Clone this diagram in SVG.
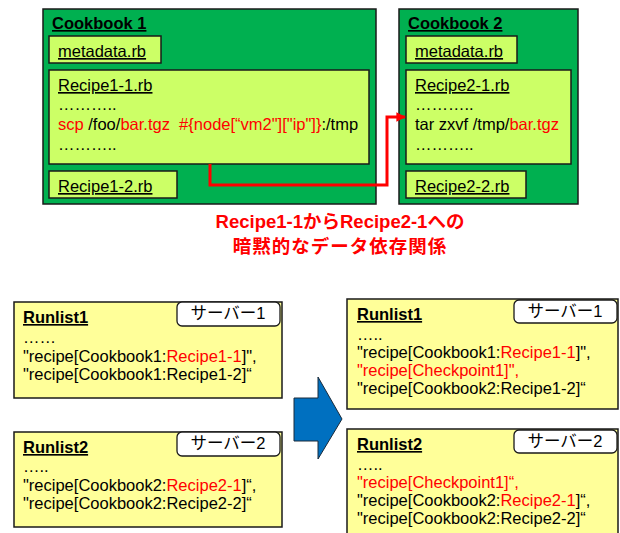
<svg xmlns="http://www.w3.org/2000/svg" width="620" height="533" viewBox="0 0 620 533">
  <style>
    text { font-family: "Liberation Sans", Arial, "Noto Sans CJK JP", sans-serif; font-size: 16.5px; fill: #000; white-space: pre; }
    .title { font-weight: bold; text-decoration: underline; font-size: 16.5px; }
    .u { text-decoration: underline; }
    .r { fill: #FF0000; }
    .cook { fill: #00B050; stroke: #1a1a1a; stroke-width: 1.5; }
    .file { fill: #CCFF66; stroke: #1a1a1a; stroke-width: 1.5; }
    .run { fill: #FFFF99; stroke: #1a1a1a; stroke-width: 1.5; }
    .srv { fill: #FFFFFF; stroke: #1a1a1a; stroke-width: 1.3; }
    .cap { font-weight: bold; font-size: 18.5px; fill: #FF0000; text-anchor: middle; }
    .mid { text-anchor: middle; }
  </style>
  <defs>
    <marker id="redHead" viewBox="0 0 10 10" refX="9" refY="5" markerWidth="3.2" markerHeight="3.2" orient="auto" markerUnits="strokeWidth">
      <path d="M0,0 L10,5 L0,10 z" fill="#FF0000"/>
    </marker>
  </defs>

  <!-- Cookbook 1 -->
  <g id="cookbook1">
    <rect class="cook" x="43" y="9" width="333" height="195"/>
    <text class="title" x="52" y="29">Cookbook 1</text>
    <rect class="file" x="49" y="36" width="112" height="27"/>
    <text class="u" x="58" y="57">metadata.rb</text>
    <rect class="file" x="49" y="70" width="320" height="94"/>
    <text class="u" x="58" y="91">Recipe1-1.rb</text>
    <text x="58" y="110">………..</text>
    <text x="58" y="130"><tspan class="r">scp</tspan> /foo/<tspan class="r">bar.tgz</tspan>  <tspan class="r">#{node[“vm2"]["ip"]}</tspan>:/tmp</text>
    <text x="58" y="150">………..</text>
    <rect class="file" x="49" y="171" width="128" height="27"/>
    <text class="u" x="58" y="192">Recipe1-2.rb</text>
  </g>

  <!-- Cookbook 2 -->
  <g id="cookbook2">
    <rect class="cook" x="399" y="9" width="179" height="195"/>
    <text class="title" x="408" y="29">Cookbook 2</text>
    <rect class="file" x="406" y="36" width="111" height="27"/>
    <text class="u" x="415" y="57">metadata.rb</text>
    <rect class="file" x="406" y="70" width="165" height="94"/>
    <text class="u" x="415" y="91">Recipe2-1.rb</text>
    <text x="415" y="110">………..</text>
    <text x="415" y="130">tar zxvf /tmp/<tspan class="r">bar.tgz</tspan></text>
    <text x="415" y="150">………..</text>
    <rect class="file" x="406" y="171" width="120" height="27"/>
    <text class="u" x="415" y="192">Recipe2-2.rb</text>
  </g>

  <!-- Connectors -->
  <g id="connectors">
    <path d="M210,164 V185 H387 V117 H405" fill="none" stroke="#FF0000" stroke-width="3" marker-end="url(#redHead)"/>
    <path d="M294,398 H318 V377 L342,419 L318,459 V441 H294 Z" fill="#0070C0" stroke="#1a2a3a" stroke-width="1"/>
  </g>

  <!-- Caption -->
  <g id="caption">
    <text class="cap" x="340" y="228">Recipe1-1からRecipe2-1への</text>
    <text class="cap" x="340" y="253" letter-spacing="1">暗黙的なデータ依存関係</text>
  </g>

  <!-- Run lists before -->
  <g id="runlist1-before">
    <rect class="run" x="14" y="302" width="268" height="96"/>
    <text class="title" x="23" y="323">Runlist1</text>
    <rect class="srv" x="177" y="302" width="103" height="24" rx="5"/>
    <text class="mid" x="228" y="319">サーバー1</text>
    <text x="23" y="343">……</text>
    <text x="23" y="362">"recipe[Cookbook1:<tspan class="r">Recipe1-1</tspan>]",</text>
    <text x="23" y="380">"recipe[Cookbook1:Recipe1-2]“</text>
  </g>

  <g id="runlist2-before">
    <rect class="run" x="14" y="432" width="268" height="95"/>
    <text class="title" x="23" y="453">Runlist2</text>
    <rect class="srv" x="177" y="432" width="103" height="24" rx="5"/>
    <text class="mid" x="228" y="449">サーバー2</text>
    <text x="23" y="472">…..</text>
    <text x="23" y="491">"recipe[Cookbook2:<tspan class="r">Recipe2-1</tspan>]“,</text>
    <text x="23" y="509">"recipe[Cookbook2:Recipe2-2]“</text>
  </g>

  <!-- Run lists after -->
  <g id="runlist1-after">
    <rect class="run" x="347" y="299" width="271" height="110"/>
    <text class="title" x="357" y="320">Runlist1</text>
    <rect class="srv" x="514" y="300" width="103" height="23" rx="5"/>
    <text class="mid" x="565" y="317">サーバー1</text>
    <text x="357" y="340">…..</text>
    <text x="357" y="358">"recipe[Cookbook1:<tspan class="r">Recipe1-1</tspan>]",</text>
    <text class="r" x="357" y="376">"recipe[Checkpoint1]",</text>
    <text x="357" y="394">"recipe[Cookbook2:Recipe1-2]“</text>
  </g>

  <g id="runlist2-after">
    <rect class="run" x="347" y="429" width="271" height="110"/>
    <text class="title" x="357" y="450">Runlist2</text>
    <rect class="srv" x="514" y="430" width="103" height="23" rx="5"/>
    <text class="mid" x="565" y="447">サーバー2</text>
    <text x="357" y="470">…..</text>
    <text class="r" x="357" y="488">"recipe[Checkpoint1]“,</text>
    <text x="357" y="506">"recipe[Cookbook2:<tspan class="r">Recipe2-1</tspan>]“,</text>
    <text x="357" y="524">"recipe[Cookbook2:Recipe2-2]“</text>
  </g>
</svg>
